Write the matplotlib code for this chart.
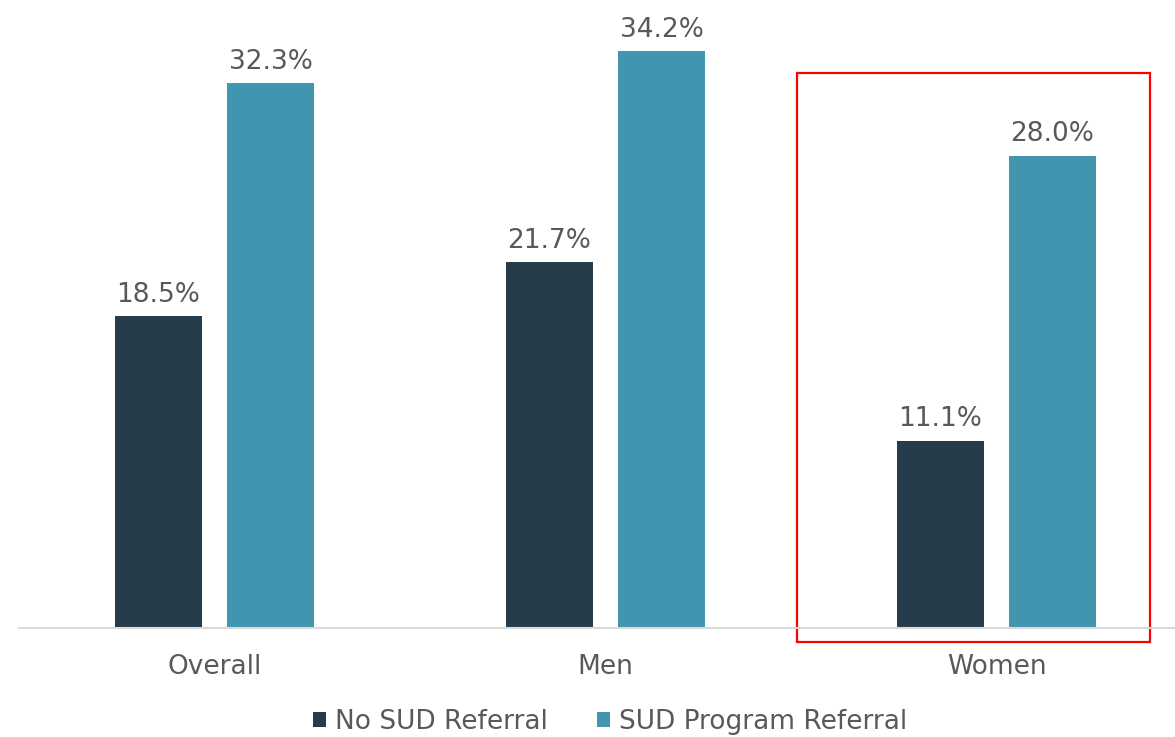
import matplotlib
matplotlib.use("Agg")
import matplotlib.pyplot as plt
from matplotlib.patches import Rectangle
import numpy as np

categories = ["Overall", "Men", "Women"]
series_names = ["No SUD Referral", "SUD Program Referral"]
no_sud = [18.5, 21.7, 11.1]
sud_program = [32.3, 34.2, 28.0]
colors = ["#263C4B", "#4195AF"]

plt.rcParams['font.family'] = ['DejaVu Sans']
text_color = "#595959"
fs = 19

W, H = 1175, 737
fig = plt.figure(figsize=(W / 100, H / 100), dpi=100)
cat_px = 391.0
left_px = 19
base_px = 628
px_per_unit = 16.87
ymax = 36.0
ax = fig.add_axes([left_px / W, (H - base_px) / H, 3 * cat_px / W, ymax * px_per_unit / H])

x = np.arange(len(categories))
off = 56 / cat_px
bw = 87 / cat_px
b1 = ax.bar(x - off, no_sud, bw, color=colors[0], label=series_names[0])
b2 = ax.bar(x + off, sud_program, bw, color=colors[1], label=series_names[1])

for bars, vals in ((b1, no_sud), (b2, sud_program)):
    for rect, v in zip(bars, vals):
        ax.annotate(f"{v:.1f}%", (rect.get_x() + rect.get_width() / 2, rect.get_height()),
                    xytext=(0, 6), textcoords="offset points", ha="center", va="bottom",
                    fontsize=fs, color=text_color)

ax.set_xlim(-0.5, 2.5)
ax.set_ylim(0, ymax)
ax.set_xticks(x)
ax.set_xticklabels(categories, fontsize=fs, color=text_color)
ax.tick_params(axis='x', length=0, pad=19)
ax.set_yticks([])
for s in ["top", "right", "left"]:
    ax.spines[s].set_visible(False)
ax.spines["bottom"].set_color("#D9D9D9")
ax.spines["bottom"].set_linewidth(1.5)

# Highlight box around Women
rx0 = (797 - left_px) / cat_px - 0.5
rx1 = (1150 - left_px) / cat_px - 0.5
ry0 = (base_px - 642) / px_per_unit
ry1 = (base_px - 73) / px_per_unit
ax.add_patch(Rectangle((rx0, ry0), rx1 - rx0, ry1 - ry0, fill=False, edgecolor="#FF0000",
                       linewidth=1.6, clip_on=False))

fig.legend(handles=[b1, b2], labels=series_names, loc="center", ncol=2,
           bbox_to_anchor=(610 / W, 1 - 722 / H), frameon=False, fontsize=fs,
           handlelength=0.5, handleheight=0.5, handletextpad=0.35, columnspacing=1.85,
           labelcolor=text_color)

fig.savefig("out.png", dpi=100)
